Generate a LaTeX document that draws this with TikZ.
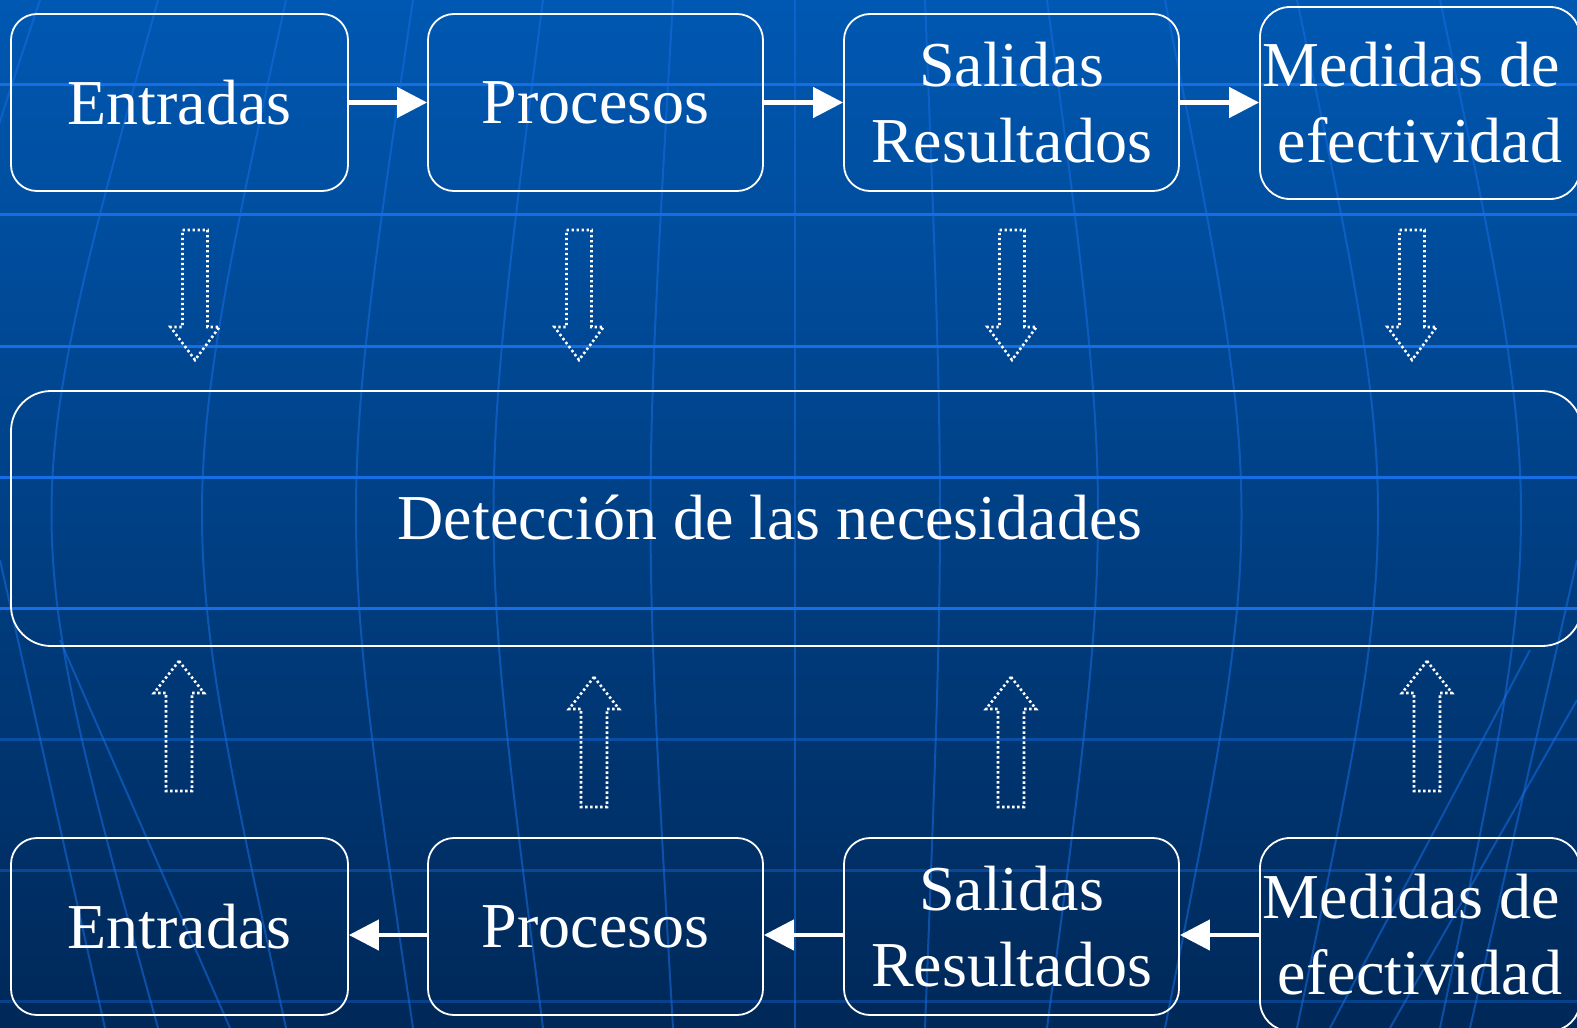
\documentclass[tikz,border=0pt]{standalone}
\usepackage{fontspec}
\setmainfont{Liberation Serif}
\usetikzlibrary{arrows.meta}
\definecolor{bgtop}{RGB}{0,88,178}
\definecolor{bgmid}{RGB}{0,64,134}
\definecolor{bgbot}{RGB}{0,40,88}
\definecolor{gridblue}{RGB}{22,110,228}
\tikzstyle{box}=[draw=white, line width=1.8pt, rounded corners=26pt, text=white, align=center, inner sep=0pt, font=\fontsize{64}{76}\selectfont]
\tikzstyle{flow}=[draw=white, line width=4.5pt, -{Triangle[length=30pt,width=30pt]}]
\tikzstyle{hint}=[draw=white, line width=2.6pt, dash pattern=on 2.4pt off 2.6pt]
\tikzstyle{latline}=[draw=gridblue, line width=3pt]
\tikzstyle{meridian}=[draw=gridblue, line width=2pt, opacity=0.55]

\begin{document}
\begin{tikzpicture}[x=1pt,y=-1pt]
				%background
				\clip (0,0) rectangle (1577,1028);
				\shade[top color=bgtop, middle color=bgmid, bottom color=bgbot] (0,0) rectangle (1577,1028);
				\foreach \y/\o in {84/1,214/1,346/1,477/1,608/1,739/0.45,870/0.4,1001/0.35}
					\draw[latline, opacity=\o] (0,\y) -- (1577,\y);
				\foreach \t/\m in {158/87,286/230,413/375,543/510,673/658,795/795,925/935,1047/1081,1165/1216,1297/1351,1440/1494}
					\draw[meridian] (\t,0) .. controls (2*\m-\t,514) .. (\t,1028);
				\draw[meridian] (40,0) .. controls (-60,300) .. (-40,600);
				\draw[meridian] (0,560) -- (105,1028);
				\draw[meridian] (60,640) -- (230,1028);
				\draw[meridian] (1577,560) -- (1470,1028);
				\draw[meridian] (1577,700) -- (1390,1028);
				\draw[meridian] (1530,650) -- (1330,1028);
				
				%The top row
				\draw (179.5,102.5) node[box, minimum width=337pt, minimum height=177pt] (ent1) {Entradas};
				\draw (595.5,102.5) node[box, minimum width=335pt, minimum height=177pt] (pro1) {Procesos};
				\draw (1011.5,102.5) node[box, minimum width=335pt, minimum height=177pt] (sal1) {Salidas\\Resultados};
				\draw (1420,103) node[box, rounded corners=30pt, minimum width=320pt, minimum height=192pt] (med1) {Medidas de\phantom{i}\\efectividad};
				
				\draw[flow] (ent1) -- (pro1);
				\draw[flow] (pro1) -- (sal1);
				\draw[flow] (sal1.east) -- (sal1.east -| med1.west);
				
				%The middle box
				\draw (796.5,518.5) node[box, rounded corners=40pt, minimum width=1571pt, minimum height=255pt] (det) {};
				\draw (770,518) node[text=white, font=\fontsize{64}{76}\selectfont] (dettxt) {Detección de las necesidades};
				
				%The bottom row
				\draw (179.5,926.5) node[box, minimum width=337pt, minimum height=177pt] (ent2) {Entradas};
				\draw (595.5,926.5) node[box, minimum width=335pt, minimum height=177pt] (pro2) {Procesos};
				\draw (1011.5,926.5) node[box, minimum width=335pt, minimum height=177pt] (sal2) {Salidas\\Resultados};
				\draw (1420,934.5) node[box, rounded corners=30pt, minimum width=320pt, minimum height=193pt] (med2) {Medidas de\phantom{i}\\efectividad};
				
				\draw[flow] ([yshift=-8.5pt]pro2.west) -- ([yshift=-8.5pt]ent2.east);
				\draw[flow] ([yshift=-8.5pt]sal2.west) -- ([yshift=-8.5pt]pro2.east);
				\draw[flow] ([yshift=-8.5pt]sal2.east -| med2.west) -- ([yshift=-8.5pt]sal2.east);
				
				%dotted arrows
				\foreach \c in {195,579,1012,1412}
					\draw[hint] (\c-12.5,230) -- (\c+12.5,230) -- (\c+12.5,327) -- (\c+24.5,327) -- (\c,360) -- (\c-24.5,327) -- (\c-12.5,327) -- cycle;
				\foreach \c/\t in {179/661,594/677,1011/677,1427/661}
					\draw[hint] (\c,\t) -- (\c+25,\t+32) -- (\c+13,\t+32) -- (\c+13,\t+130) -- (\c-13,\t+130) -- (\c-13,\t+32) -- (\c-25,\t+32) -- cycle;
			\end{tikzpicture}
\end{document}
